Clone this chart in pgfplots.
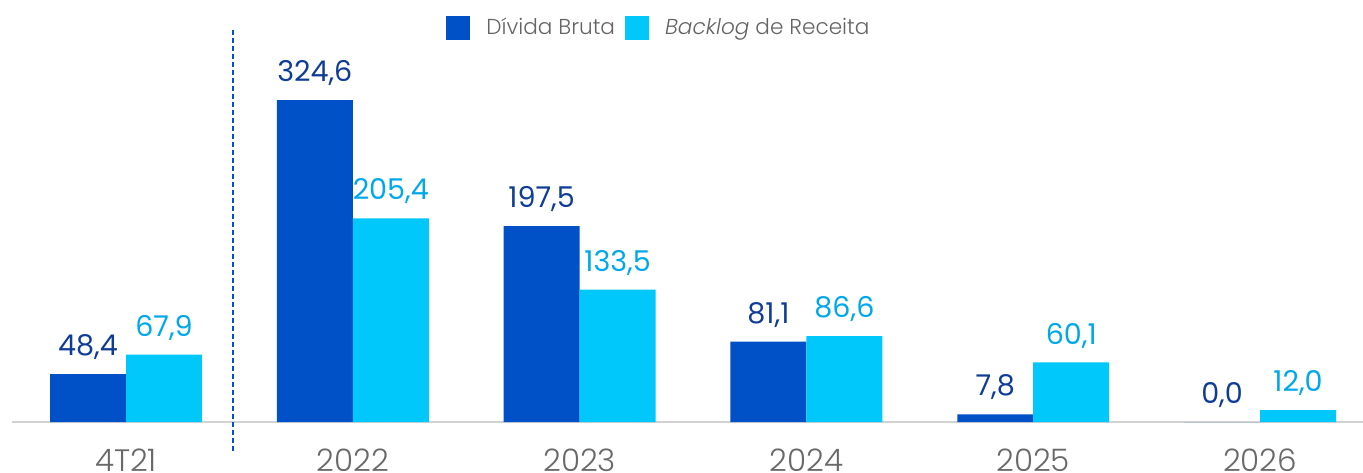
\documentclass[border=0pt]{standalone}
\usepackage{pgfplots}
\pgfplotsset{compat=1.18}
\usepackage{fontspec}
\setmainfont{Poppins}
\newfontfamily\lightfont{Poppins}[UprightFont=* Light, ItalicFont=* Light Italic]
\definecolor{dkblue}{RGB}{0,80,200}
\definecolor{ltblue}{RGB}{0,200,250}
\definecolor{dklab}{RGB}{14,60,150}
\definecolor{ltlab}{RGB}{0,168,235}
\definecolor{tickgray}{RGB}{105,105,105}
\definecolor{leggray}{RGB}{100,100,100}
\begin{document}
\begin{tikzpicture}
\begin{axis}[
 scale only axis, width=675.5pt, height=211pt,
 xmin=-0.503, xmax=5.454, ymin=0, ymax=425.4,
 axis y line=none, axis x line*=bottom,
 x axis line style={-, draw=gray!35, line width=0.75pt},
 xtick={0,...,5}, xticklabels={4T21,2022,2023,2024,2025,2026},
 major tick length=0pt,
 xticklabel style={font=\lightfont\fontsize{15.5}{18}\selectfont, text=tickgray, anchor=north, inner sep=0pt, yshift=-13pt},
 /pgf/number format/assume math mode=true,
 ybar=0pt, bar width=0.335,
 clip=false,
 nodes near coords={\pgfmathprintnumber[fixed,fixed zerofill,precision=1,use comma,assume math mode=true]{\pgfplotspointmeta}},
 nodes near coords style={font=\fontsize{14.3}{17}\selectfont, anchor=south, inner sep=0pt, text depth=0pt, yshift=9pt},
 legend style={at={(rel axis cs:0.4796,0.934)}, anchor=center, draw=none, fill=none, legend columns=2, font=\lightfont\fontsize{10.8}{13}\selectfont, text=leggray, /tikz/every even column/.append style={column sep=3pt}},
 legend image code/.code={\fill[#1,draw=none] (0pt,-6pt) rectangle (12pt,6pt);\path (18pt,0pt);},
]
\addplot[fill=dkblue, draw=none, every node near coord/.append style={text=dklab}] coordinates {(0,48.4) (1,324.6) (2,197.5) (3,81.1) (4,7.8) (5,0.0)};
\addlegendentry{Dívida Bruta}
\addplot[fill=ltblue, draw=none, every node near coord/.append style={text=ltlab}] coordinates {(0,67.9) (1,205.4) (2,133.5) (3,86.6) (4,60.1) (5,12.0)};
\addlegendentry{\textit{Backlog} de Receita}
\draw[dkblue, line width=0.75pt, dash pattern=on 2.5pt off 1.5pt] (axis cs:0.472,395) -- (axis cs:0.472,-30.2);
\coordinate (SW) at (axis cs:-0.5556,-50.4);
\coordinate (NE) at (axis cs:5.454,425.4);
\end{axis}
\pgfresetboundingbox
\path[use as bounding box] (SW) rectangle (NE);
\end{tikzpicture}
\end{document}
